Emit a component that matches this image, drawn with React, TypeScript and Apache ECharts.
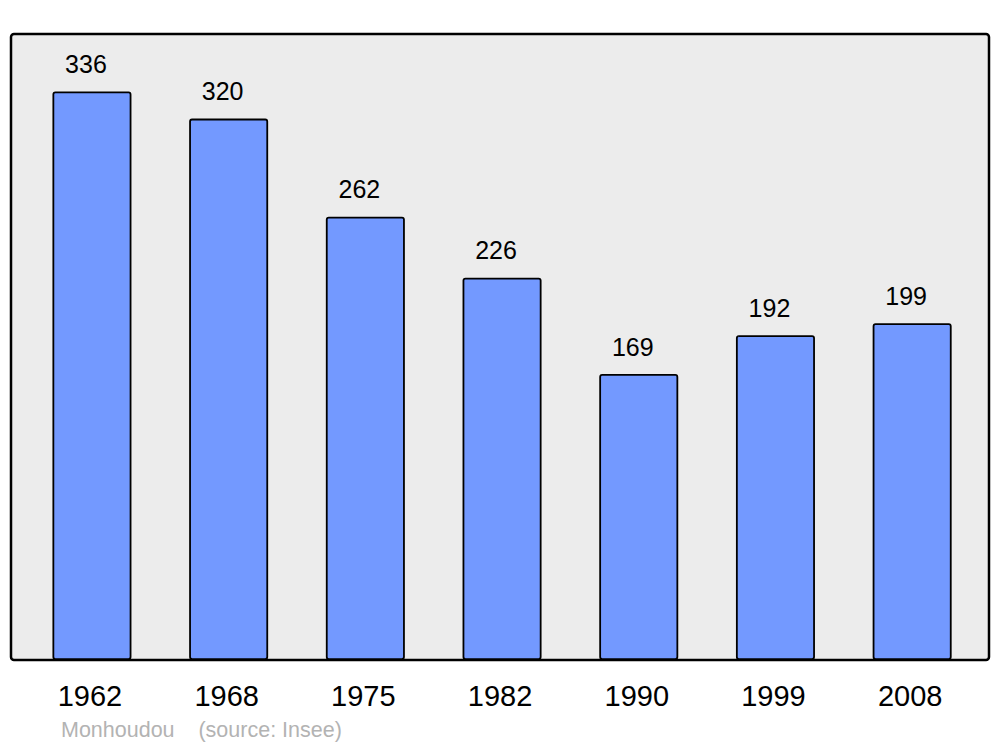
import React, { useEffect, useRef } from "react";
import * as echarts from "echarts";

const years = ["1962", "1968", "1975", "1982", "1990", "1999", "2008"];
const population = [336, 320, 262, 226, 169, 192, 199];
const footerName = "Monhoudou";
const footerSource = "(source: Insee)";

export default function App() {
  const ref = useRef<HTMLDivElement>(null);
  useEffect(() => {
    if (!ref.current) return;
    const chart = echarts.init(ref.current, null, { renderer: "svg" });
    chart.setOption({
      animation: false,
      backgroundColor: "#ffffff",
      textStyle: { fontFamily: "Liberation Sans, Arial, sans-serif" },
      grid: { left: 23.6, right: 19.5, top: 34, bottom: 87, containLabel: false },
      xAxis: {
        type: "category",
        data: years,
        axisLine: { show: false },
        axisTick: { show: false },
        axisLabel: {
          fontSize: 29,
          color: "#000",
          margin: 21,
          padding: [0, 4, 0, 0],
          fontFamily: "Liberation Sans, Arial, sans-serif",
        },
      },
      yAxis: {
        type: "value",
        min: 0,
        max: 370,
        show: false,
        splitLine: { show: false },
      },
      graphic: [
        {
          type: "rect",
          z: 0,
          shape: { x: 11, y: 34, width: 978, height: 626, r: 3 },
          style: { fill: "#ececec", stroke: "#000", lineWidth: 2.5 },
        },
        {
          type: "text",
          z: 10,
          x: 61,
          y: 730,
          style: {
            text: footerName + "    " + footerSource,
            fill: "#b3b3b3",
            fontSize: 21.5,
            fontFamily: "Liberation Sans, Arial, sans-serif",
            verticalAlign: "middle",
            align: "left",
          },
        },
      ],
      series: [
        {
          type: "bar",
          data: population,
          barWidth: 79,
          z: 5,
          itemStyle: {
            color: "#7399ff",
            borderColor: "#000",
            borderWidth: 1.8,
            borderRadius: 2,
          },
          label: {
            show: true,
            position: "top",
            distance: 15,
            offset: [-6, 0],
            fontSize: 25,
            color: "#000",
            fontFamily: "Liberation Sans, Arial, sans-serif",
          },
        },
      ],
    });
    return () => chart.dispose();
  }, []);
  return (
    <div
      ref={ref}
      style={{ position: "fixed", left: 0, top: 0, width: 1000, height: 747 }}
    />
  );
}
